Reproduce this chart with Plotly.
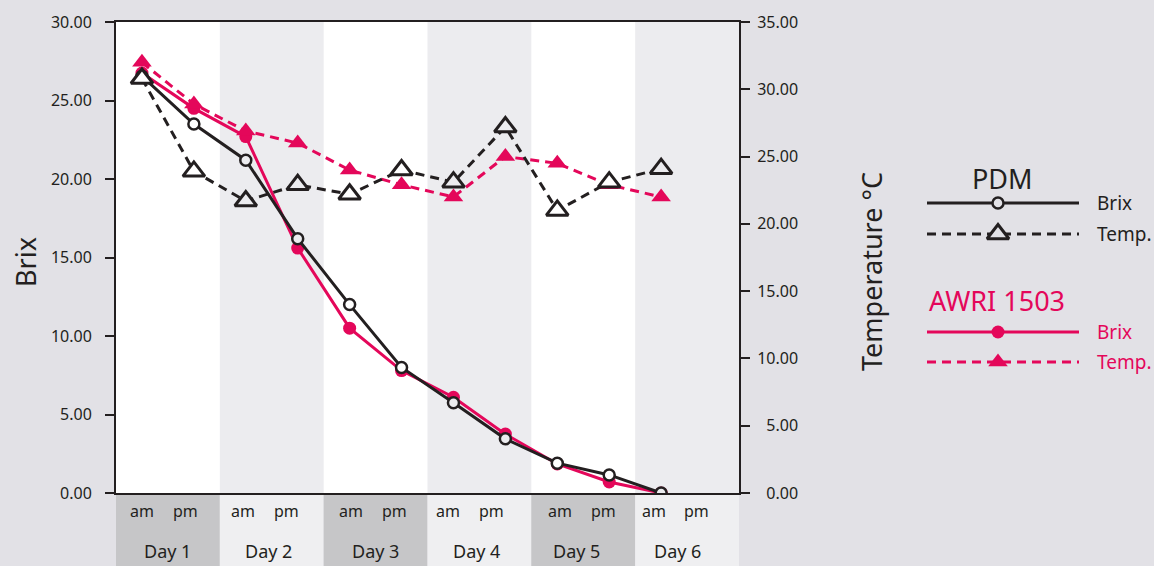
import plotly.graph_objects as go

W, H = 1154, 566

# ---------------- data ----------------
days = ["Day 1", "Day 2", "Day 3", "Day 4", "Day 5", "Day 6"]
halves = ["am", "pm"]
samples = ["Day 1 am", "Day 1 pm", "Day 2 am", "Day 2 pm", "Day 3 am", "Day 3 pm",
           "Day 4 am", "Day 4 pm", "Day 5 am", "Day 5 pm", "Day 6 am"]
pdm_brix = [26.55, 23.5, 21.2, 16.2, 12.0, 8.0, 5.75, 3.45, 1.9, 1.15, 0.0]
awri_brix = [26.75, 24.5, 22.7, 15.6, 10.5, 7.8, 6.1, 3.75, 1.85, 0.7, 0.0]
pdm_temp = [30.8, 23.9, 21.7, 22.9, 22.2, 24.0, 23.1, 27.2, 21.0, 23.1, 24.1]
awri_temp = [32.0, 28.9, 26.9, 26.0, 24.0, 22.9, 22.0, 25.0, 24.5, 22.9, 22.0]
brix_ticks = [0, 5, 10, 15, 20, 25, 30]
temp_ticks = [0, 5, 10, 15, 20, 25, 30, 35]

# ---------------- style ----------------
BLACK = "#231f20"
PINK = "#e4075a"
PAGE_BG = "#e2e1e6"
BAND_LIGHT = "#ececef"
BOTTOM_DARK = "#c6c6c8"
BOTTOM_LIGHT = "#efeff1"
FONT = "Noto Sans"
DASH = "9px,6px"

# layout geometry (pixels)
PLOT_L, PLOT_R, PLOT_T, PLOT_B = 116, 739, 22, 493
# horizontal pixel positions of the category labels below the plot
DAY_LABEL_PX = [167, 268, 375, 476, 576, 677]
AM_LABEL_PX = [142, 243, 351, 448, 560, 654]
PM_LABEL_PX = [185, 286, 394, 491, 603, 696]


def px(x):
    return x / W


def py(y):
    return 1 - y / H


xpos = list(range(len(samples)))
slot_fill = ["#ffffff" if (i // 2) % 2 == 0 else BAND_LIGHT for i in xpos]

fig = go.Figure()

# AWRI 1503 temperature
fig.add_trace(go.Scatter(
    x=xpos, y=awri_temp, yaxis="y2", mode="lines+markers", name="AWRI 1503 Temp.",
    line=dict(color=PINK, width=3, dash=DASH),
    marker=dict(symbol="triangle-up", size=17, color=PINK, line=dict(width=0)),
    showlegend=False))
# PDM temperature
fig.add_trace(go.Scatter(
    x=xpos, y=pdm_temp, yaxis="y2", mode="lines+markers", name="PDM Temp.",
    line=dict(color=BLACK, width=3, dash=DASH),
    marker=dict(symbol="triangle-up", size=19, color=slot_fill, line=dict(width=3, color=BLACK)),
    showlegend=False))
# AWRI 1503 Brix
fig.add_trace(go.Scatter(
    x=xpos, y=awri_brix, mode="lines+markers", name="AWRI 1503 Brix",
    line=dict(color=PINK, width=3),
    marker=dict(symbol="circle", size=13, color=PINK),
    showlegend=False))
# PDM Brix
fig.add_trace(go.Scatter(
    x=xpos, y=pdm_brix, mode="lines+markers", name="PDM Brix",
    line=dict(color=BLACK, width=3),
    marker=dict(symbol="circle", size=11, color=slot_fill, line=dict(width=2.5, color=BLACK)),
    showlegend=False))

# ---------------- custom legend (glyphs on a pixel-space helper axis) ----------------
LEG_X0, LEG_XM, LEG_X1 = 927, 998, 1079
LEG_ROWS = [
    (203, BLACK, "solid", "circle", 11, PAGE_BG, 2.5),
    (234, BLACK, DASH, "triangle-up", 19, PAGE_BG, 3),
    (332, PINK, "solid", "circle", 13, PINK, 0),
    (362, PINK, DASH, "triangle-up", 17, PINK, 0),
]
for yrow, col, dash, sym, size, fill, lw in LEG_ROWS:
    fig.add_trace(go.Scatter(
        x=[LEG_X0, LEG_X1], y=[yrow, yrow], xaxis="x3", yaxis="y3", mode="lines",
        line=dict(color=col, width=3, dash=dash), showlegend=False, hoverinfo="skip"))
    fig.add_trace(go.Scatter(
        x=[LEG_XM], y=[yrow], xaxis="x3", yaxis="y3", mode="markers",
        marker=dict(symbol=sym, size=size, color=fill, line=dict(width=lw, color=col)),
        showlegend=False, hoverinfo="skip"))

shapes = []
# white plot background
shapes.append(dict(type="rect", xref="paper", yref="paper", x0=px(PLOT_L), x1=px(PLOT_R),
                   y0=py(PLOT_B), y1=py(PLOT_T), fillcolor="#ffffff", line=dict(width=0),
                   layer="below"))
# plot-area day bands
for d in range(len(days)):
    if d % 2 == 1:
        shapes.append(dict(type="rect", xref="x", yref="y domain", x0=2 * d - 0.5, x1=2 * d + 1.5,
                           y0=0, y1=1, fillcolor=BAND_LIGHT, line=dict(width=0), layer="below"))
# bottom category bands
for d in range(len(days)):
    shapes.append(dict(type="rect", xref="x", yref="paper", x0=2 * d - 0.5, x1=2 * d + 1.5,
                       y0=0, y1=py(PLOT_B), fillcolor=BOTTOM_DARK if d % 2 == 0 else BOTTOM_LIGHT,
                       line=dict(width=0), layer="below"))


def ann(text, x, y, size, color=BLACK, xanchor="center", yanchor="middle", xref="paper", **kw):
    return dict(text=text, x=x, y=y, xref=xref, yref="paper", showarrow=False,
                xanchor=xanchor, yanchor=yanchor,
                font=dict(size=size, color=color, family=FONT), **kw)


annotations = []
for d, day in enumerate(days):
    annotations.append(ann(day, px(DAY_LABEL_PX[d]), py(551), 18))
    annotations.append(ann(halves[0], px(AM_LABEL_PX[d]), py(511), 16))
    annotations.append(ann(halves[1], px(PM_LABEL_PX[d]), py(511), 16))

# axis titles
annotations.append(ann("Brix", px(25), py(262), 27, textangle=-90))
annotations.append(ann("Temperature °C", px(871), py(272), 27, textangle=-90))
# legend text
annotations.append(ann("PDM", px(1002), py(178), 27))
annotations.append(ann("AWRI 1503", px(927), py(300), 27, color=PINK, xanchor="left"))
for yrow, txt, col in [(203, "Brix", BLACK), (234, "Temp.", BLACK), (332, "Brix", PINK), (362, "Temp.", PINK)]:
    annotations.append(ann(txt, px(1095), py(yrow), 19, color=col, xanchor="left"))

FIG_SPACE = "\u2007"
fig.update_layout(
    width=W, height=H,
    margin=dict(l=0, r=0, t=0, b=0, pad=0),
    paper_bgcolor=PAGE_BG,
    plot_bgcolor="rgba(0,0,0,0)",
    font=dict(family=FONT, color=BLACK),
    xaxis=dict(domain=[px(PLOT_L), px(PLOT_R)], range=[-0.5, 11.5], showticklabels=False,
               ticks="", showgrid=False, zeroline=False, showline=True, linecolor=BLACK,
               linewidth=2, mirror=True, fixedrange=True, automargin=False),
    yaxis=dict(domain=[py(PLOT_B), py(PLOT_T)], range=[0, 30], tickvals=brix_ticks,
               ticktext=[f"{v:.2f}" for v in brix_ticks], ticks="outside", ticklen=9, tickwidth=2,
               tickcolor=BLACK, showgrid=False, zeroline=False, showline=True, linecolor=BLACK,
               linewidth=2, tickfont=dict(size=16, color=BLACK, family=FONT), ticklabelstandoff=10,
               fixedrange=True, automargin=False),
    yaxis2=dict(overlaying="y", side="right", range=[0, 35], tickvals=temp_ticks,
                ticktext=[(FIG_SPACE if v < 10 else "") + f"{v:.2f}" for v in temp_ticks],
                ticks="outside", ticklen=9, tickwidth=2, tickcolor=BLACK, showgrid=False,
                zeroline=False, showline=True, linecolor=BLACK, linewidth=2,
                tickfont=dict(size=16, color=BLACK, family=FONT), ticklabelstandoff=4,
                fixedrange=True, automargin=False),
    xaxis3=dict(domain=[0, 1], range=[0, W], visible=False, anchor="y3", fixedrange=True,
                automargin=False),
    yaxis3=dict(domain=[0, 1], range=[H, 0], visible=False, anchor="x3", fixedrange=True,
                automargin=False),
    shapes=shapes,
    annotations=annotations,
    showlegend=False,
)

fig.write_html("out.html", config={"displayModeBar": False},
               post_script="document.body.style.margin='0';document.body.style.overflow='hidden';")
